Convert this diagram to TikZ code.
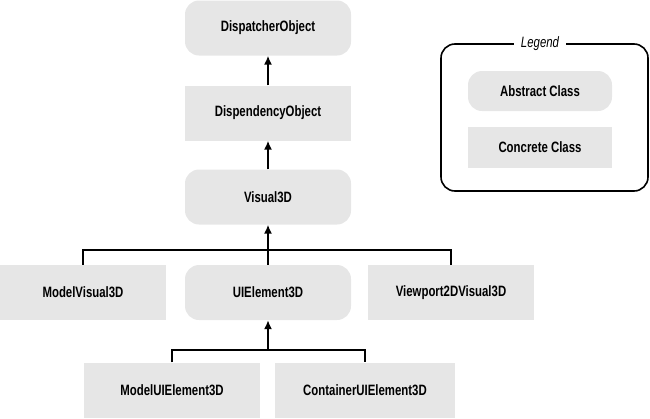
\documentclass[tikz,border=0pt]{standalone}
\usepackage{fontspec}
\setmainfont{Liberation Sans}[FakeStretch=0.76]
\usetikzlibrary{arrows.meta}
\definecolor{boxgray}{HTML}{E6E6E6}
\tikzset{
  cls/.style={fill=boxgray, draw=none, minimum width=166pt, minimum height=55pt, inner sep=0pt, font=\bfseries\fontsize{15}{17}\selectfont},
  abstractcls/.style={cls, rounded corners=14pt},
  concretecls/.style={cls},
  inh/.style={line width=1.6pt, -{Latex[length=9pt,width=8pt]}},
  bus/.style={line width=1.6pt},
}
\begin{document}
\begin{tikzpicture}[x=1pt,y=-1pt]
\useasboundingbox (0,0) rectangle (650,418);
\node[abstractcls] (disp) at (268,28) {DispatcherObject};
\node[concretecls] (dep) at (268,113) {DispendencyObject};
\node[abstractcls] (vis) at (268,197) {Visual3D};
\node[concretecls] (mv) at (83,292.5) {ModelVisual3D};
\node[abstractcls] (ui) at (268,292.5) {UIElement3D};
\node[concretecls] (vp) at (451,292.5) {Viewport2DVisual3D};
\node[concretecls, minimum width=176pt] (mui) at (172,390) {ModelUIElement3D};
\node[concretecls, minimum width=180pt] (cui) at (365,390) {ContainerUIElement3D};

\draw[inh] (dep.north) -- (disp.south);
\draw[inh] (vis.north) -- (dep.south);
\coordinate (b1) at (268,250);
\draw[bus] (mv.north) |- (b1) -| (vp.north);
\draw[inh] (ui.north) -- (vis.south);
\coordinate (b2) at (268,350);
\draw[bus] (mui.north) |- (b2) -| (cui.north);
\draw[inh] (b2) -- (ui.south);

% legend
\node[font=\itshape\fontsize{15}{17}\selectfont, inner xsep=7pt] (legtitle) at (540,44) {Legend};
\node[abstractcls, minimum width=144pt, minimum height=40pt] (abs) at (540,91) {Abstract Class};
\node[concretecls, minimum width=144pt, minimum height=41pt] (con) at (540,147.5) {Concrete Class};
\draw[line width=1.6pt, rounded corners=14pt] (legtitle.west) -- (441,44) -- (441,191) -- (648,191) -- (648,44) -- (legtitle.east);
\end{tikzpicture}
\end{document}
